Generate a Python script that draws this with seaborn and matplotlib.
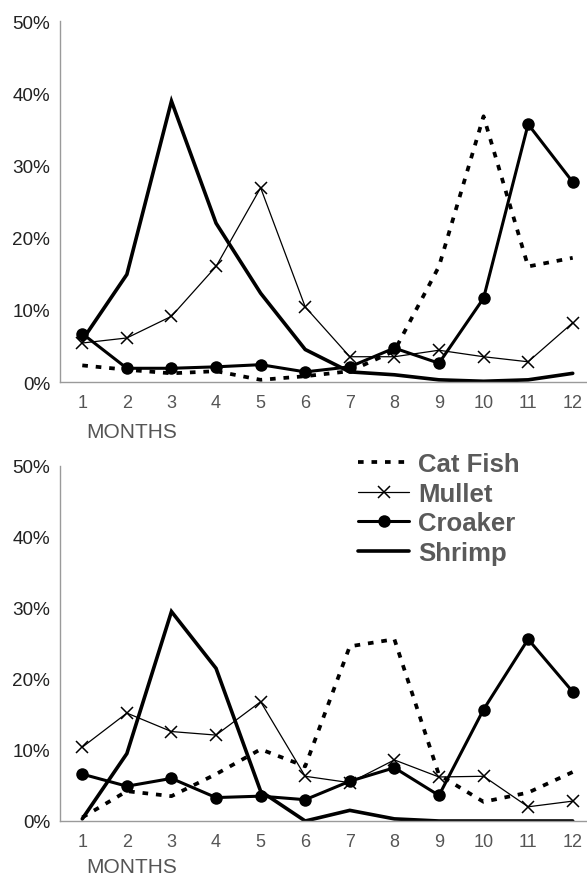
import matplotlib
matplotlib.use("Agg")
import matplotlib.pyplot as plt
import pandas as pd
import seaborn as sns

months = list(range(1, 13))
month_labels = [str(m) for m in months]
species = ["Cat Fish", "Mullet", "Croaker", "Shrimp"]
y_ticks = [0, 10, 20, 30, 40, 50]
y_labels = ["0%", "10%", "20%", "30%", "40%", "50%"]

# upper panel (percent)
top_catfish = [2.3, 1.7, 1.2, 1.5, 0.3, 0.8, 1.5, 4.3, 16.0, 36.8, 16.0, 17.2]
top_mullet = [5.4, 6.1, 9.1, 16.0, 26.9, 10.4, 3.5, 3.5, 4.4, 3.5, 2.8, 8.2]
top_croaker = [6.7, 1.9, 1.9, 2.1, 2.4, 1.4, 2.1, 4.7, 2.6, 11.6, 35.7, 27.7]
top_shrimp = [5.8, 14.9, 38.9, 22.0, 12.3, 4.5, 1.4, 1.0, 0.3, 0.1, 0.3, 1.2]

# lower panel (percent)
bot_catfish = [0.5, 4.2, 3.5, 6.6, 10.1, 7.7, 24.6, 25.6, 6.5, 2.7, 4.0, 6.9]
bot_mullet = [10.4, 15.2, 12.6, 12.1, 16.8, 6.3, 5.4, 8.6, 6.2, 6.3, 2.0, 2.8]
bot_croaker = [6.6, 4.9, 6.0, 3.3, 3.5, 3.0, 5.6, 7.5, 3.6, 15.7, 25.6, 18.2]
bot_shrimp = [0.3, 9.5, 29.5, 21.5, 4.2, 0.0, 1.5, 0.3, 0.0, 0.0, 0.0, 0.0]

sns.set_style("white")
plt.rcParams["font.family"] = ["Liberation Sans", "DejaVu Sans"]

styles = {
    "Cat Fish": dict(lw=2.7, ls=(0, (1.5, 2.1)), marker=None),
    "Mullet": dict(lw=0.9, ls="-", marker="x", ms=8, mew=1.1),
    "Croaker": dict(lw=2.2, ls="-", marker="o", ms=9, mew=0),
    "Shrimp": dict(lw=2.6, ls="-", marker=None),
}


def draw_panel(ax, series):
    for name, vals in zip(species, series):
        d = pd.DataFrame({"month": months, "pct": vals})
        st = styles[name]
        kw = dict(color="black", linewidth=st["lw"], linestyle=st["ls"])
        if st["marker"]:
            kw.update(marker=st["marker"], markersize=st["ms"], markeredgewidth=st["mew"],
                      markeredgecolor="black", markerfacecolor="black")
        sns.lineplot(data=d, x="month", y="pct", ax=ax, label=name, legend=False,
                     dash_capstyle="butt", solid_joinstyle="miter", **kw)
    ax.set_xlim(0.5, 12.5)
    ax.set_ylim(0, 50)
    ax.set_xticks(months)
    ax.set_xticklabels(month_labels)
    ax.set_xticks([m + 0.5 for m in months[:-1]], minor=True)
    ax.set_yticks(y_ticks)
    ax.set_yticklabels(y_labels)
    ax.set_xlabel("")
    ax.set_ylabel("")
    for s in ["top", "right"]:
        ax.spines[s].set_visible(False)
    for s in ["left", "bottom"]:
        ax.spines[s].set_color("#9a9a9a")
        ax.spines[s].set_linewidth(1.0)
    ax.tick_params(axis="x", which="major", length=0, pad=9, labelsize=13, labelcolor="#555555")
    ax.tick_params(axis="x", which="minor", direction="in", length=3, color="#9a9a9a", width=0.8)
    ax.tick_params(axis="y", direction="in", length=3, color="#9a9a9a", width=0.8,
                   pad=7, labelsize=13.6, labelcolor="#222222")


fig = plt.figure(figsize=(5.87, 8.78), dpi=100)
ax1 = fig.add_axes([60 / 587, 1 - 383 / 878, 535 / 587, 361 / 878])
ax2 = fig.add_axes([60 / 587, 1 - 822 / 878, 535 / 587, 355 / 878])

draw_panel(ax1, [top_catfish, top_mullet, top_croaker, top_shrimp])
draw_panel(ax2, [bot_catfish, bot_mullet, bot_croaker, bot_shrimp])

fig.text(132 / 587, 1 - 433 / 878, "MONTHS", ha="center", va="center", fontsize=15, color="#555555")
fig.text(132 / 587, 1 - 868 / 878, "MONTHS", ha="center", va="center", fontsize=15, color="#555555")

handles, labels = ax2.get_legend_handles_labels()
leg = ax2.legend(handles, labels, loc="upper left", bbox_to_anchor=(358 / 587, 1 - 453 / 878),
                 bbox_transform=fig.transFigure, frameon=False, borderpad=0, borderaxespad=0,
                 handlelength=2.0, handletextpad=0.35, labelspacing=0.22,
                 prop={"size": 18.5, "weight": "bold"})
for t in leg.get_texts():
    t.set_color("#5a5a5a")

fig.savefig("out.png", dpi=100)
